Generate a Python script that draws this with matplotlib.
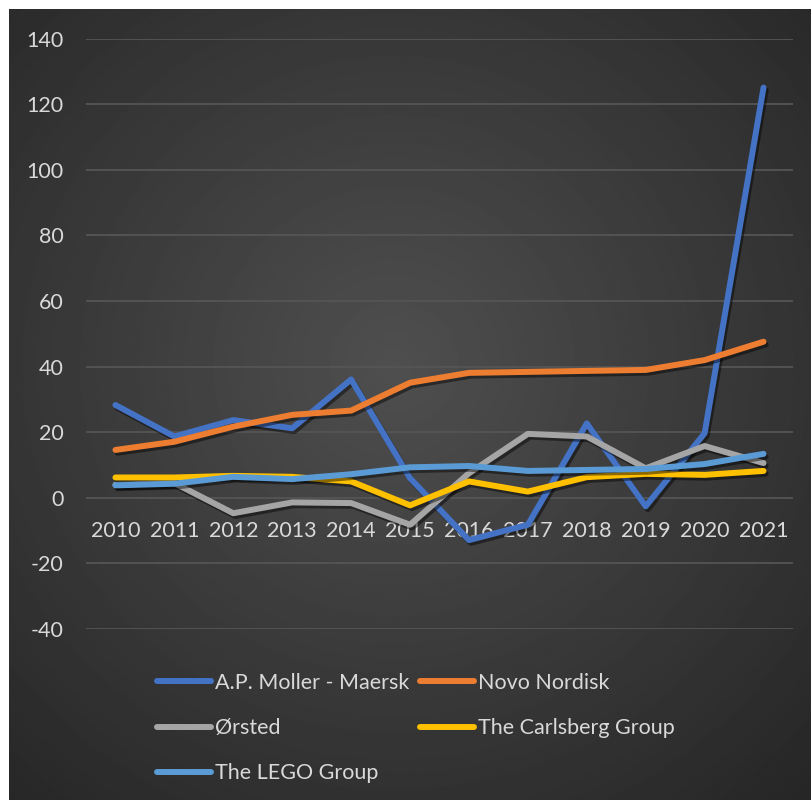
import numpy as np
import matplotlib
matplotlib.use('Agg')
import matplotlib.pyplot as plt
import matplotlib.patheffects as pe

plt.rcParams['font.family'] = ['Lato', 'DejaVu Sans']
plt.rcParams['axes.unicode_minus'] = False

years = ['2010', '2011', '2012', '2013', '2014', '2015', '2016', '2017', '2018', '2019', '2020', '2021']

maersk = [28.3, 18.7, 23.7, 21.2, 36.1, 6.0, -12.9, -8.2, 22.7, -2.6, 19.7, 125.1]
novo = [14.6, 17.1, 21.7, 25.3, 26.6, 35.1, 38.1, 38.4, 38.7, 39.0, 42.0, 47.6]
orsted = [4.0, 4.5, -4.7, -1.4, -1.6, -8.2, 7.5, 19.5, 18.7, 9.0, 15.8, 10.6]
carlsberg = [6.2, 6.2, 6.7, 6.4, 5.0, -2.3, 5.0, 1.9, 6.3, 7.3, 7.0, 8.2]
lego = [3.8, 4.3, 6.4, 5.7, 7.2, 9.3, 9.7, 8.2, 8.5, 8.8, 10.3, 13.4]

names = ['A.P. Moller - Maersk', 'Novo Nordisk', 'Ørsted', 'The Carlsberg Group', 'The LEGO Group']
colors = ['#4472C4', '#ED7D31', '#A5A5A5', '#FFC000', '#5B9BD5']

W, H = 811, 800
fig = plt.figure(figsize=(W / 100, H / 100), dpi=100, facecolor='white')

# dark radial gradient background (leaves a thin white strip top/left)
bg = fig.add_axes([9 / W, 0, (W - 9) / W, (H - 9) / H], zorder=-5)
yy, xx = np.mgrid[0:1:400j, 0:1:400j]
r = np.sqrt(((xx - 0.48) / 0.75) ** 2 + ((yy - 0.45) / 0.75) ** 2)
shade = 0.31 - 0.16 * np.clip(r, 0, 1)
bg.imshow(shade, cmap='gray', vmin=0, vmax=1, aspect='auto', extent=[0, 1, 1, 0])
bg.axis('off')

ax = fig.add_axes([86 / W, 1 - 629 / H, (793 - 86) / W, (629 - 38.7) / H])
ax.patch.set_alpha(0)

x = np.arange(len(years))
shadow = [pe.SimpleLineShadow(offset=(1.5, -2), shadow_color='black', alpha=0.45), pe.Normal()]
lines = []
for vals, name, c in zip([maersk, novo, orsted, carlsberg, lego], names, colors):
    ln, = ax.plot(x, vals, color=c, lw=4.3, label=name, solid_capstyle='round',
                  solid_joinstyle='round', path_effects=shadow, clip_on=False)
    lines.append(ln)

ax.set_xlim(-0.5, len(years) - 0.5)
ax.set_ylim(-40, 140)
ax.set_yticks(range(-40, 141, 20))
ax.grid(axis='y', color='#555555', lw=1.3)
ax.set_axisbelow(True)
for s in ax.spines.values():
    s.set_visible(False)
ax.spines['bottom'].set_position(('data', 0))
ax.set_xticks(x)
ax.set_xticklabels(years)
ax.tick_params(axis='x', length=0, pad=17, labelsize=15.5, labelcolor='#d9d9d9')
ax.tick_params(axis='y', length=0, pad=16, labelsize=15.5, labelcolor='#d9d9d9')

# excel fills the legend row by row, matplotlib column by column
order = [0, 2, 4, 1, 3]
leg = fig.legend([lines[i] for i in order], [names[i] for i in order],
                 loc='upper left', bbox_to_anchor=(157 / W, 1 - 673 / H), ncol=2,
                 frameon=False, fontsize=15.5, handlelength=2.5, handletextpad=0.2,
                 columnspacing=0.5, labelspacing=1.17, borderpad=0, borderaxespad=0)
for t in leg.get_texts():
    t.set_color('#d9d9d9')
for h in leg.legend_handles:
    h.set_path_effects([])
    h.set_linewidth(4.3)

fig.savefig('out.png', dpi=100, facecolor='white')
